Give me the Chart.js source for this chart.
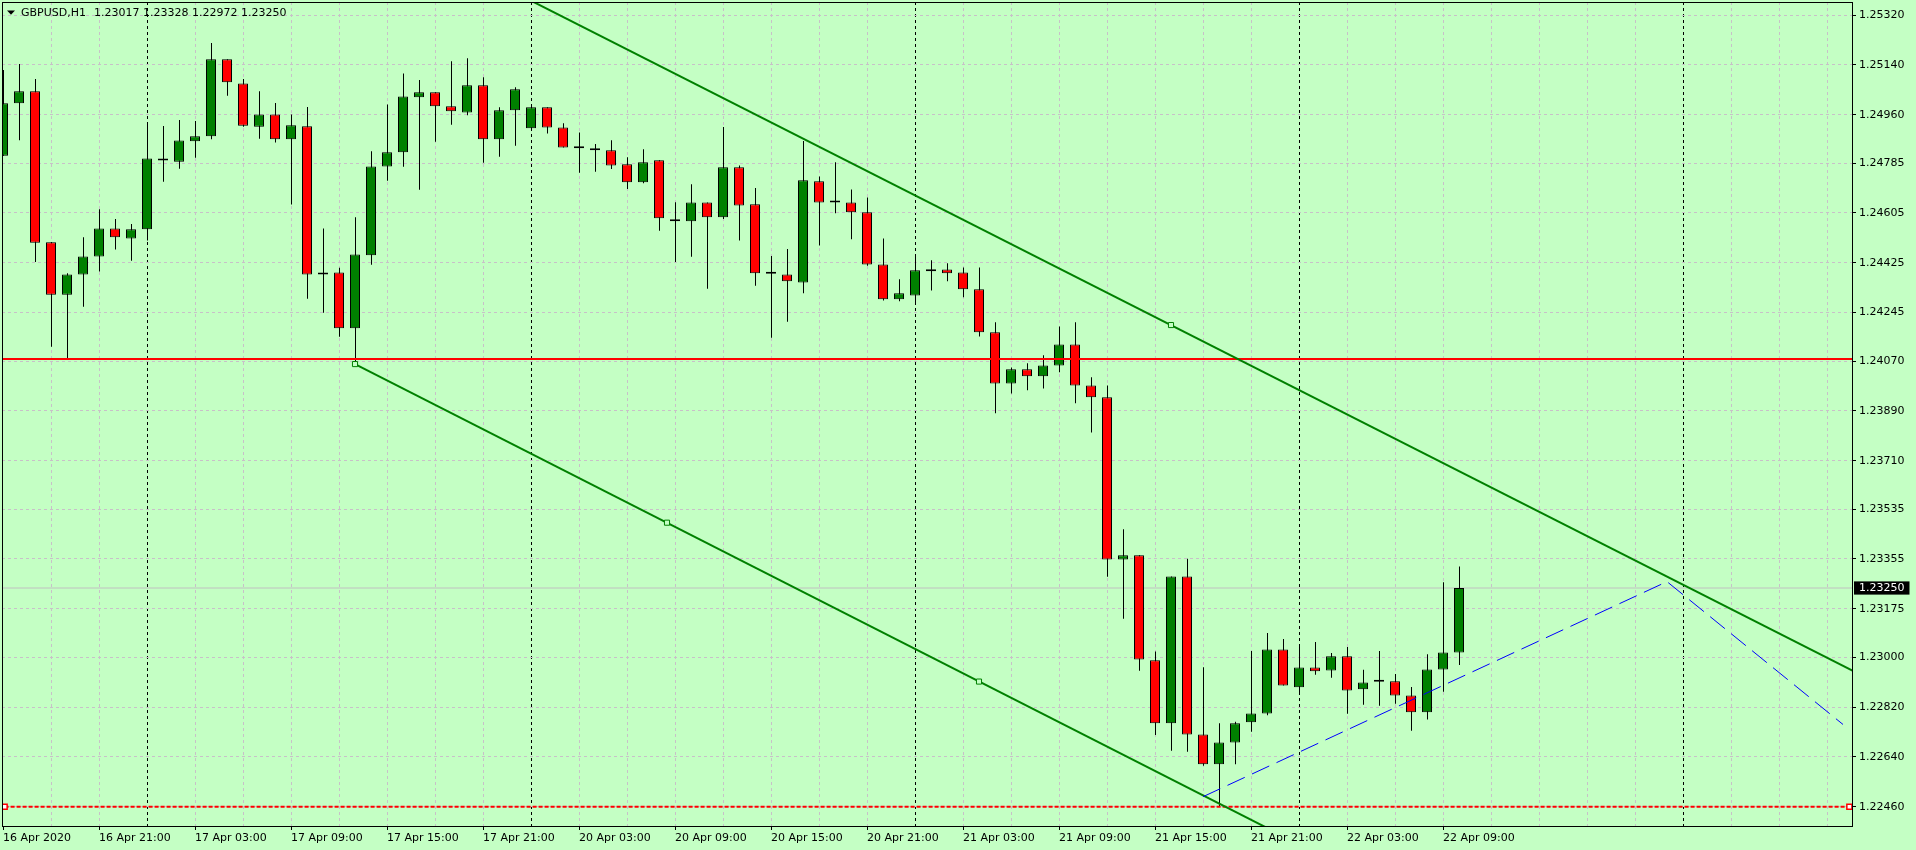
<!DOCTYPE html>
<html>
<head>
<meta charset="utf-8">
<script src="https://cdn.jsdelivr.net/npm/chart.js@4.4.1/dist/chart.umd.min.js"></script>
<style>
html,body{margin:0;padding:0;background:#c4ffc4;overflow:hidden;}
#wrap{width:1916px;height:850px;position:relative;}
canvas{display:block;}
</style>
</head>
<body>
<div id="wrap"><canvas id="c" width="1916" height="850"></canvas></div>
<script>
// ---------------- data ----------------
const symbolTitle = 'GBPUSD,H1';
// bar index 0 = 16 Apr 15:00 (H1 bars, weekend skipped)
const xTickLabels = ['16 Apr 2020','16 Apr 21:00','17 Apr 03:00','17 Apr 09:00','17 Apr 15:00','17 Apr 21:00',
  '20 Apr 03:00','20 Apr 09:00','20 Apr 15:00','20 Apr 21:00','21 Apr 03:00','21 Apr 09:00','21 Apr 15:00',
  '21 Apr 21:00','22 Apr 03:00','22 Apr 09:00'];
const daySeparators = [9, 33, 57, 81, 105];
const yTickLabels = ['1.25320','1.25140','1.24960','1.24785','1.24605','1.24425','1.24245','1.24070','1.23890',
  '1.23710','1.23535','1.23355','1.23175','1.23000','1.22820','1.22640','1.22460'];

const opens  = [1.24812,1.25001,1.25045,1.24499,1.24309,1.24383,1.24448,1.24549,1.24513,1.24546,
  1.24794,1.24790,1.24864,1.24882,1.25160,1.25073,1.24916,1.24961,1.24871,1.24918,
  1.24383,1.24390,1.24188,1.24452,1.24773,1.24824,1.25023,1.25041,1.24990,1.24968,
  1.25066,1.24871,1.24976,1.24911,1.24987,1.24914,1.24839,1.24838,1.24831,1.24781,
  1.24716,1.24795,1.24582,1.24575,1.24643,1.24589,1.24770,1.24636,1.24385,1.24383,
  1.24354,1.24719,1.24643,1.24643,1.24607,1.24419,1.24293,1.24307,1.24394,1.24401,
  1.24390,1.24329,1.24174,1.23989,1.24040,1.24015,1.24054,1.24130,1.23982,1.23939,
  1.23353,1.23368,1.22989,1.22761,1.23292,1.22721,1.22613,1.22692,1.22765,1.22797,
  1.23028,1.22891,1.22963,1.22952,1.23003,1.22884,1.22911,1.22913,1.22862,1.22801,
  1.22956,1.23017];
const highs  = [1.25121,1.25143,1.25089,1.24500,1.24387,1.24517,1.24618,1.24583,1.24565,1.24932,
  1.24919,1.24941,1.24937,1.25219,1.25160,1.25089,1.25045,1.25002,1.24961,1.24988,
  1.24549,1.24407,1.24589,1.24828,1.24997,1.25109,1.25085,1.25041,1.25153,1.25164,
  1.25095,1.24987,1.25059,1.24990,1.24987,1.24929,1.24896,1.24854,1.24868,1.24806,
  1.24835,1.24795,1.24644,1.24709,1.24643,1.24915,1.24776,1.24695,1.24449,1.24475,
  1.24865,1.24737,1.24788,1.24690,1.24661,1.24513,1.24365,1.24455,1.24434,1.24423,
  1.24408,1.24408,1.24210,1.24047,1.24062,1.24091,1.24195,1.24210,1.24011,1.23982,
  1.23462,1.23368,1.23021,1.23292,1.23356,1.22964,1.22761,1.22767,1.23022,1.23087,
  1.23066,1.23046,1.23055,1.23015,1.23037,1.22955,1.23022,1.22939,1.22892,1.23011,
  1.23271,1.23328];
const lows   = [1.24812,1.24868,1.24428,1.24122,1.24074,1.24266,1.24393,1.24473,1.24432,1.24505,
  1.24718,1.24765,1.24804,1.24871,1.25028,1.24916,1.24873,1.24859,1.24635,1.24295,
  1.24244,1.24158,1.24070,1.24418,1.24721,1.24772,1.24689,1.24862,1.24924,1.24958,
  1.24786,1.24808,1.24848,1.24905,1.24892,1.24841,1.24750,1.24754,1.24764,1.24691,
  1.24712,1.24541,1.24428,1.24447,1.24331,1.24583,1.24505,1.24342,1.24154,1.24212,
  1.24315,1.24487,1.24604,1.24510,1.24414,1.24289,1.24286,1.24275,1.24325,1.24358,
  1.24300,1.24159,1.23881,1.23953,1.23964,1.23971,1.24029,1.23917,1.23812,1.23291,
  1.23139,1.22951,1.22719,1.22662,1.22658,1.22608,1.22460,1.22613,1.22731,1.22790,
  1.22898,1.22864,1.22937,1.22926,1.22796,1.22828,1.22825,1.22832,1.22734,1.22775,
  1.22875,1.22972];
const closes = [1.25001,1.25045,1.24497,1.24309,1.24383,1.24448,1.24549,1.24517,1.24546,1.24802,
  1.24794,1.24867,1.24882,1.25160,1.25077,1.24920,1.24961,1.24871,1.24922,1.24383,
  1.24390,1.24188,1.24455,1.24773,1.24824,1.25026,1.25041,1.24990,1.24972,1.25066,
  1.24871,1.24976,1.25052,1.24987,1.24914,1.24841,1.24839,1.24831,1.24776,1.24716,
  1.24788,1.24586,1.24575,1.24643,1.24589,1.24770,1.24632,1.24387,1.24385,1.24358,
  1.24723,1.24643,1.24643,1.24607,1.24419,1.24293,1.24315,1.24398,1.24401,1.24387,
  1.24329,1.24174,1.23989,1.24040,1.24015,1.24054,1.24130,1.23982,1.23939,1.23353,
  1.23368,1.22992,1.22761,1.23292,1.22721,1.22613,1.22692,1.22761,1.22797,1.23028,
  1.22898,1.22963,1.22949,1.23003,1.22880,1.22909,1.22911,1.22862,1.22801,1.22956,
  1.23017,1.23250];

// drawn objects (bar index, price)
const resistanceLevel = 1.24077;
const lowLevelAnchors = [{x:0.1, y:1.22460},{x:115.4, y:1.22460}];
const channelUpper = [{x:22, y:1.25694},{x:116, y:1.22940}];
const channelLower = [{x:22, y:1.24059},{x:90, y:1.22060}];
const channelAnchors = [{x:22, y:1.24059},{x:41.5, y:1.23486},{x:61, y:1.22912},{x:73, y:1.24200}];
const projection = [{x:75, y:1.22496},{x:104, y:1.23273},{x:115, y:1.22757}];

// ---------------- view ----------------
const BG = '#c4ffc4', GRID = '#c8c0c8', BULL = '#008000', BEAR = '#ff0000';
const X_MIN = -0.0625, X_MAX = 115.5625;
const Y_MIN = 1.223902, Y_MAX = 1.253670;
const FONT = {family: 'DejaVu Sans', size: 11};
const last = closes.length - 1;
const bid = closes[last];
const idx = opens.map((_, i) => i);
const gridBars = [];
for (let b = 0; b <= 114; b += 3) gridBars.push(b);
const isLabelBar = v => v % 6 === 0 && v / 6 < xTickLabels.length;
const yTickValues = yTickLabels.map(parseFloat);
const noPad = s => { s.paddingLeft = 0; s.paddingRight = 0; s.paddingTop = 0; s.paddingBottom = 0; };

const overlay = {
  id: 'overlay',
  beforeDraw(chart) {
    const ctx = chart.ctx;
    ctx.save();
    ctx.fillStyle = BG;
    ctx.fillRect(0, 0, chart.width, chart.height);
    ctx.restore();
  },
  afterDraw(chart) {
    const ctx = chart.ctx, a = chart.chartArea;
    ctx.save();
    ctx.strokeStyle = '#000';
    ctx.lineWidth = 1;
    ctx.strokeRect(a.left + 0.5, a.top + 0.5, a.right - a.left, a.bottom - a.top);
    ctx.fillStyle = '#000';
    ctx.beginPath();
    ctx.moveTo(7, 10.5); ctx.lineTo(15, 10.5); ctx.lineTo(11, 14.8); ctx.closePath();
    ctx.fill();
    ctx.font = '11px "DejaVu Sans"';
    ctx.textBaseline = 'middle';
    ctx.textAlign = 'left';
    ctx.fillText(symbolTitle, 21, 13);
    const ohlc = [opens[last], highs[last], lows[last], closes[last]].map(v => v.toFixed(5)).join(' ');
    ctx.fillText(ohlc, 94, 13);
    ctx.restore();
  }
};

const lineDs = (data, color, width, order, dash) => ({
  type: 'line', data, xAxisID: 'x', yAxisID: 'y', borderColor: color, borderWidth: width,
  borderDash: dash || [], pointRadius: 0, tension: 0, fill: false, clip: 0, order
});

new Chart(document.getElementById('c'), {
  type: 'bar',
  data: {
    datasets: [
      lineDs([{x: -1, y: bid}, {x: 117, y: bid}], '#c0c0c0', 1, 10),
      {
        type: 'bar', xAxisID: 'xw', yAxisID: 'y',
        data: idx.map(i => ({x: i, y: [lows[i], highs[i]]})),
        backgroundColor: '#000', borderWidth: 0, barThickness: 1, grouped: false,
        inflateAmount: 0, order: 8
      },
      {
        type: 'bar', xAxisID: 'x', yAxisID: 'y',
        data: idx.map(i => ({x: i, y: [opens[i], closes[i]]})),
        backgroundColor: idx.map(i => closes[i] >= opens[i] ? BULL : BEAR),
        borderColor: '#000', borderWidth: 1, borderSkipped: false, barThickness: 10,
        minBarLength: 2, grouped: false, inflateAmount: 0, order: 7
      },
      lineDs([{x: -1, y: resistanceLevel}, {x: 117, y: resistanceLevel}], '#ff0000', 2, 4),
      lineDs(lowLevelAnchors, '#ff0000', 2, 4, [4, 2]),
      lineDs(channelUpper, '#008000', 2, 3),
      lineDs(channelLower, '#008000', 2, 3),
      lineDs(projection, '#0000ff', 1, 2, [19, 8]),
      {
        type: 'line', data: channelAnchors, xAxisID: 'x', yAxisID: 'y', showLine: false,
        pointStyle: 'rect', pointRadius: 3.6, pointBorderColor: '#008000', pointBackgroundColor: BG,
        pointBorderWidth: 1, clip: 0, order: 1
      },
      {
        type: 'line', data: lowLevelAnchors, xAxisID: 'x', yAxisID: 'y', showLine: false,
        pointStyle: 'rect', pointRadius: 3.6, pointBorderColor: '#ff0000', pointBackgroundColor: '#ffffff',
        pointBorderWidth: 1.5, clip: 0, order: 1
      }
    ]
  },
  options: {
    responsive: false,
    animation: false,
    events: [],
    layout: {autoPadding: false, padding: {left: 2, top: 2, right: 0, bottom: 0}},
    plugins: {legend: {display: false}, tooltip: {enabled: false}, title: {display: false}},
    scales: {
      x: {
        type: 'linear', position: 'bottom', min: X_MIN, max: X_MAX, offset: false,
        afterBuildTicks: s => { s.ticks = gridBars.map(v => ({value: v})); },
        afterFit: s => { s.height = 24; noPad(s); },
        ticks: {
          autoSkip: false, maxRotation: 0, minRotation: 0, align: 'start', padding: 2,
          color: '#000', font: FONT,
          callback: v => isLabelBar(v) ? xTickLabels[v / 6] : ''
        },
        grid: {
          offset: false, lineWidth: 1, tickLength: 4, drawTicks: true,
          color: c => (c.tick && c.tick.value === 0) ? 'rgba(0,0,0,0)' :
            (c.tick && daySeparators.includes(c.tick.value) ? '#000' : GRID),
          tickColor: c => (c.tick && isLabelBar(c.tick.value)) ? '#000' : 'rgba(0,0,0,0)'
        },
        border: {display: false, dash: [3, 3]}
      },
      xw: {
        type: 'linear', position: 'bottom', display: false, offset: false,
        min: X_MIN - 1 / 32, max: X_MAX - 1 / 32,
        afterFit: s => { noPad(s); }
      },
      y: {
        type: 'linear', position: 'right', min: Y_MIN, max: Y_MAX,
        afterBuildTicks: s => {
          s.ticks = yTickValues.concat([bid]).sort((a, b) => a - b).map(v => ({value: v}));
        },
        afterFit: s => { s.width = 64; noPad(s); },
        ticks: {
          autoSkip: false, padding: 3, font: FONT, crossAlign: 'near',
          color: c => (c.tick && c.tick.value === bid) ? '#ffffff' : '#000',
          showLabelBackdrop: c => !!(c.tick && c.tick.value === bid),
          backdropColor: '#000',
          backdropPadding: {left: 5, right: 5, top: 0, bottom: 0},
          callback: v => v === bid ? bid.toFixed(5) : yTickLabels[yTickValues.indexOf(v)]
        },
        grid: {
          lineWidth: 1, tickLength: 4,
          color: c => (c.tick && c.tick.value === bid) ? 'rgba(0,0,0,0)' : GRID,
          tickColor: c => (c.tick && c.tick.value === bid) ? 'rgba(0,0,0,0)' : '#000'
        },
        border: {display: false, dash: [3, 3]}
      }
    }
  },
  plugins: [overlay]
});
</script>
</body>
</html>
